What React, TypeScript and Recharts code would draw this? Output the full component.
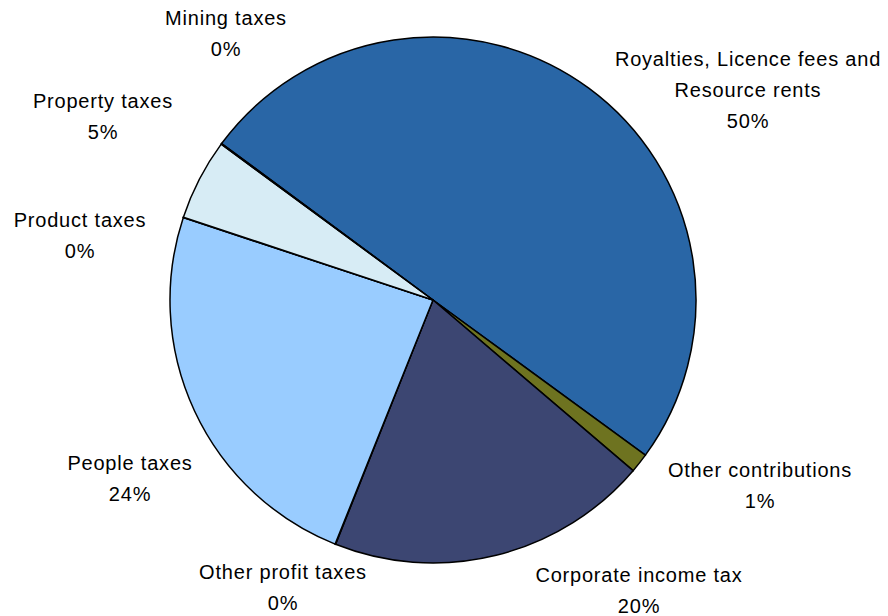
import { PieChart, Pie, Cell } from "recharts";

// Share of total tax contribution by category (clockwise from top-left)
const categories = [
  "Royalties, Licence fees and Resource rents",
  "Other contributions",
  "Corporate income tax",
  "Other profit taxes",
  "People taxes",
  "Product taxes",
  "Property taxes",
  "Mining taxes",
];
const values = [49.9, 1.2, 19.8, 0.03, 24.0, 0.03, 5.0, 0.04];
const labelLines = [
  ["Royalties, Licence fees and", "Resource rents"],
  ["Other contributions"],
  ["Corporate income tax"],
  ["Other profit taxes"],
  ["People taxes"],
  ["Product taxes"],
  ["Property taxes"],
  ["Mining taxes"],
];

const colors = [
  "#2966A6",
  "#6E7320",
  "#3C4672",
  "#3C4672",
  "#99CCFF",
  "#99CCFF",
  "#D7ECF5",
  "#2966A6",
];

// label block centers, relative to the pie centre (layout only)
const labelOffsets = [
  [315, -241],
  [327, 170],
  [206, 275],
  [-150, 272],
  [-303, 163],
  [-353, -80],
  [-330, -199],
  [-207, -282],
];

const CX = 433;
const CY = 300;
const LINE_H = 31;

const data = categories.map((name, i) => ({ name, value: values[i] }));

function renderLabel(props: any) {
  const { index, percent, cx, cy } = props;
  const lines = [...labelLines[index], `${Math.round(percent * 100)}%`];
  const [ox, oy] = labelOffsets[index];
  const x = cx + ox;
  const top = cy + oy;
  return (
    <text
      key={`lbl-${index}`}
      x={x}
      y={top}
      textAnchor="middle"
      dominantBaseline="central"
      fill="#000"
      fontSize={20}
      letterSpacing={0.8}
      fontFamily="'Liberation Sans', Arial, sans-serif"
    >
      {lines.map((l, j) => (
        <tspan key={j} x={x} y={top + j * LINE_H}>
          {l}
        </tspan>
      ))}
    </text>
  );
}

export default function App() {
  return (
    <div style={{ position: "absolute", left: 0, top: 0, width: 888, height: 616, background: "#fff" }}>
      <PieChart width={888} height={616} margin={{ top: 0, right: 0, bottom: 0, left: 0 }}>
        <Pie
          data={data}
          dataKey="value"
          nameKey="name"
          cx={CX}
          cy={CY}
          outerRadius={263}
          startAngle={143.5}
          endAngle={143.5 - 360}
          stroke="#000"
          strokeWidth={1.5}
          label={renderLabel}
          labelLine={false}
          isAnimationActive={false}
        >
          {data.map((d, i) => (
            <Cell key={d.name} fill={colors[i]} />
          ))}
        </Pie>
      </PieChart>
    </div>
  );
}
